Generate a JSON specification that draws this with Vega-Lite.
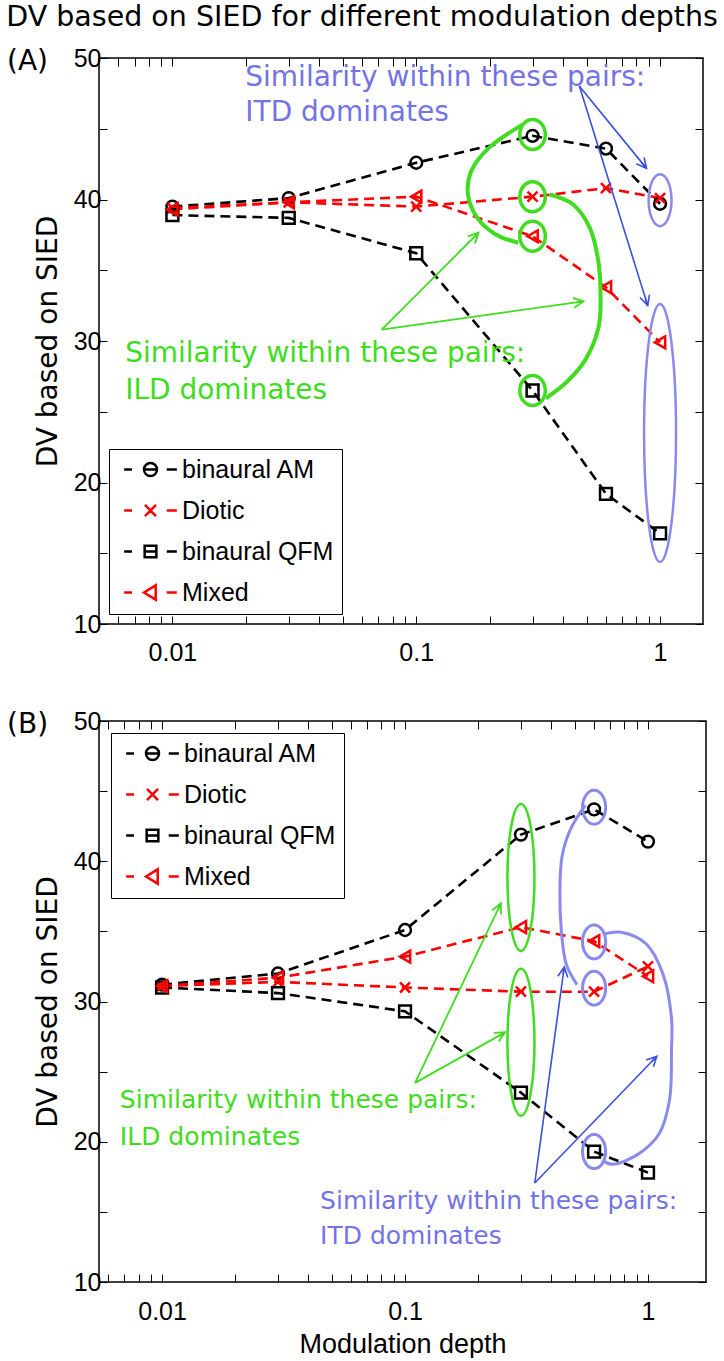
{
  "$schema": "https://vega.github.io/schema/vega-lite/v6.json",
  "background": "white",
  "padding": {"left": 6, "top": 2, "right": 3, "bottom": 0},
  "title": {"text": "DV based on SIED for different modulation depths", "font": "DejaVu Sans", "fontSize": 28.5, "fontWeight": "normal", "anchor": "start", "frame": "bounds", "offset": 14, "color": "black"},
  "spacing": 42,
  "config": {
    "view": {"stroke": "black", "strokeWidth": 1.5},
    "axis": {"domain": false, "grid": false, "tickColor": "black", "tickSize": -8, "tickWidth": 1, "labelFont": "Liberation Sans", "labelFontSize": 25, "labelColor": "black", "labelPadding": 6, "labelOverlap": false, "labelFlush": false, "titleFont": "DejaVu Sans", "titleFontSize": 28, "titleFontWeight": "normal", "titleColor": "black"}
  },
  "datasets": {
    "seriesA": [
      {"x": 0.01, "y": 39.5, "series": "binaural AM"}, {"x": 0.03, "y": 40.1, "series": "binaural AM"}, {"x": 0.1, "y": 42.6, "series": "binaural AM"}, {"x": 0.3, "y": 44.5, "series": "binaural AM"}, {"x": 0.6, "y": 43.6, "series": "binaural AM"}, {"x": 1, "y": 39.7, "series": "binaural AM"},
      {"x": 0.01, "y": 39.4, "series": "Diotic"}, {"x": 0.03, "y": 39.8, "series": "Diotic"}, {"x": 0.1, "y": 39.5, "series": "Diotic"}, {"x": 0.3, "y": 40.2, "series": "Diotic"}, {"x": 0.6, "y": 40.8, "series": "Diotic"}, {"x": 1, "y": 40.1, "series": "Diotic"},
      {"x": 0.01, "y": 38.9, "series": "binaural QFM"}, {"x": 0.03, "y": 38.7, "series": "binaural QFM"}, {"x": 0.1, "y": 36.2, "series": "binaural QFM"}, {"x": 0.3, "y": 26.5, "series": "binaural QFM"}, {"x": 0.6, "y": 19.2, "series": "binaural QFM"}, {"x": 1, "y": 16.4, "series": "binaural QFM"},
      {"x": 0.01, "y": 39.3, "series": "Mixed"}, {"x": 0.03, "y": 39.8, "series": "Mixed"}, {"x": 0.1, "y": 40.2, "series": "Mixed"}, {"x": 0.3, "y": 37.4, "series": "Mixed"}, {"x": 0.6, "y": 33.8, "series": "Mixed"}, {"x": 1, "y": 29.9, "series": "Mixed"}
    ],
    "seriesB": [
      {"x": 0.01, "y": 31.2, "series": "binaural AM"}, {"x": 0.03, "y": 32.0, "series": "binaural AM"}, {"x": 0.1, "y": 35.1, "series": "binaural AM"}, {"x": 0.3, "y": 41.9, "series": "binaural AM"}, {"x": 0.6, "y": 43.7, "series": "binaural AM"}, {"x": 1, "y": 41.4, "series": "binaural AM"},
      {"x": 0.01, "y": 31.1, "series": "Diotic"}, {"x": 0.03, "y": 31.4, "series": "Diotic"}, {"x": 0.1, "y": 31.0, "series": "Diotic"}, {"x": 0.3, "y": 30.7, "series": "Diotic"}, {"x": 0.6, "y": 30.7, "series": "Diotic"}, {"x": 1, "y": 32.5, "series": "Diotic"},
      {"x": 0.01, "y": 31.0, "series": "binaural QFM"}, {"x": 0.03, "y": 30.6, "series": "binaural QFM"}, {"x": 0.1, "y": 29.3, "series": "binaural QFM"}, {"x": 0.3, "y": 23.5, "series": "binaural QFM"}, {"x": 0.6, "y": 19.3, "series": "binaural QFM"}, {"x": 1, "y": 17.8, "series": "binaural QFM"},
      {"x": 0.01, "y": 31.1, "series": "Mixed"}, {"x": 0.03, "y": 31.7, "series": "Mixed"}, {"x": 0.1, "y": 33.2, "series": "Mixed"}, {"x": 0.3, "y": 35.3, "series": "Mixed"}, {"x": 0.6, "y": 34.3, "series": "Mixed"}, {"x": 1, "y": 31.8, "series": "Mixed"}
    ],
    "annA": [
      {"kind": "greenCircle", "x": 0.3, "y": 44.6}, {"kind": "greenCircle", "x": 0.3, "y": 40.2}, {"kind": "greenCircle", "x": 0.3, "y": 37.4}, {"kind": "greenCircle", "x": 0.3, "y": 26.5},
      {"kind": "blueSmall", "x": 1, "y": 39.95},
      {"kind": "blueBig", "x": 1, "y": 23.5},
      {"kind": "greenCurve", "id": "g1", "i": 1, "x": 0.273, "y": 45.29}, {"kind": "greenCurve", "id": "g1", "i": 2, "x": 0.2, "y": 43.7}, {"kind": "greenCurve", "id": "g1", "i": 3, "x": 0.168, "y": 42.0}, {"kind": "greenCurve", "id": "g1", "i": 4, "x": 0.163, "y": 40.35}, {"kind": "greenCurve", "id": "g1", "i": 5, "x": 0.178, "y": 38.7}, {"kind": "greenCurve", "id": "g1", "i": 6, "x": 0.212, "y": 37.53}, {"kind": "greenCurve", "id": "g1", "i": 7, "x": 0.262, "y": 36.94},
      {"kind": "greenCurve", "id": "g2", "i": 1, "x": 0.353, "y": 40.35}, {"kind": "greenCurve", "id": "g2", "i": 2, "x": 0.44, "y": 39.65}, {"kind": "greenCurve", "id": "g2", "i": 3, "x": 0.515, "y": 38.0}, {"kind": "greenCurve", "id": "g2", "i": 4, "x": 0.558, "y": 35.65}, {"kind": "greenCurve", "id": "g2", "i": 5, "x": 0.57, "y": 33.3}, {"kind": "greenCurve", "id": "g2", "i": 6, "x": 0.56, "y": 31.0}, {"kind": "greenCurve", "id": "g2", "i": 7, "x": 0.495, "y": 28.7}, {"kind": "greenCurve", "id": "g2", "i": 8, "x": 0.414, "y": 27.1}, {"kind": "greenCurve", "id": "g2", "i": 9, "x": 0.34, "y": 25.95},
      {"kind": "blueArrow", "id": "b1", "x": 0.467, "y": 48.0, "x2": 0.88, "y2": 42.2}, {"kind": "blueArrow", "id": "b2", "x": 0.467, "y": 48.0, "x2": 0.89, "y2": 32.5},
      {"kind": "greenArrow", "id": "g1", "x": 0.0722, "y": 30.8, "x2": 0.18, "y2": 37.65}, {"kind": "greenArrow", "id": "g2", "x": 0.0722, "y": 30.8, "x2": 0.485, "y2": 32.8},
      {"kind": "blueText", "x": 0.0199, "y": 48.6, "text": "Similarity within these pairs:"}, {"kind": "blueText", "x": 0.0199, "y": 46.1, "text": "ITD dominates"},
      {"kind": "greenText", "x": 0.0064, "y": 29.1, "text": "Similarity within these pairs:"}, {"kind": "greenText", "x": 0.0064, "y": 26.5, "text": "ILD dominates"}
    ],
    "annB": [
      {"kind": "greenEll", "x": 0.3, "y": 38.85}, {"kind": "greenEll", "x": 0.3, "y": 27.1},
      {"kind": "blueSmall", "x": 0.6, "y": 43.85}, {"kind": "blueSmall", "x": 0.6, "y": 34.25}, {"kind": "blueSmall", "x": 0.6, "y": 30.95}, {"kind": "blueSmall", "x": 0.6, "y": 19.3},
      {"kind": "blueCurve", "id": "c1", "i": 1, "x": 0.552, "y": 43.98}, {"kind": "blueCurve", "id": "c1", "i": 2, "x": 0.48, "y": 42.29}, {"kind": "blueCurve", "id": "c1", "i": 3, "x": 0.443, "y": 40.36}, {"kind": "blueCurve", "id": "c1", "i": 4, "x": 0.434, "y": 37.95}, {"kind": "blueCurve", "id": "c1", "i": 5, "x": 0.44, "y": 35.06}, {"kind": "blueCurve", "id": "c1", "i": 6, "x": 0.461, "y": 32.65}, {"kind": "blueCurve", "id": "c1", "i": 7, "x": 0.51, "y": 31.2},
      {"kind": "blueCurve", "id": "c2", "i": 1, "x": 0.66, "y": 34.82}, {"kind": "blueCurve", "id": "c2", "i": 2, "x": 0.775, "y": 34.94}, {"kind": "blueCurve", "id": "c2", "i": 3, "x": 0.984, "y": 34.1}, {"kind": "blueCurve", "id": "c2", "i": 4, "x": 1.154, "y": 31.93}, {"kind": "blueCurve", "id": "c2", "i": 5, "x": 1.25, "y": 28.8}, {"kind": "blueCurve", "id": "c2", "i": 6, "x": 1.25, "y": 26.6}, {"kind": "blueCurve", "id": "c2", "i": 7, "x": 1.226, "y": 22.96}, {"kind": "blueCurve", "id": "c2", "i": 8, "x": 1.11, "y": 20.55}, {"kind": "blueCurve", "id": "c2", "i": 9, "x": 0.908, "y": 19.1}, {"kind": "blueCurve", "id": "c2", "i": 10, "x": 0.715, "y": 18.39}, {"kind": "blueCurve", "id": "c2", "i": 11, "x": 0.66, "y": 18.6},
      {"kind": "greenArrow", "id": "g1", "x": 0.11, "y": 24.2, "x2": 0.248, "y2": 37.0}, {"kind": "greenArrow", "id": "g2", "x": 0.11, "y": 24.2, "x2": 0.258, "y2": 27.8},
      {"kind": "blueArrow", "id": "b1", "x": 0.342, "y": 17.06, "x2": 0.452, "y2": 32.46}, {"kind": "blueArrow", "id": "b2", "x": 0.342, "y": 17.06, "x2": 1.087, "y2": 26.1},
      {"kind": "greenText", "x": 0.0067, "y": 22.96, "text": "Similarity within these pairs:"}, {"kind": "greenText", "x": 0.0067, "y": 20.36, "text": "ILD dominates"},
      {"kind": "blueText", "x": 0.0447, "y": 15.8, "text": "Similarity within these pairs:"}, {"kind": "blueText", "x": 0.0447, "y": 13.3, "text": "ITD dominates"}
    ]
  },
  "vconcat": [
    {
      "width": 604,
      "height": 566,
      "title": {"text": "(A)", "anchor": "start", "frame": "group", "align": "left", "baseline": "middle", "dx": -92, "dy": 44, "offset": 0, "font": "DejaVu Sans", "fontSize": 28, "fontWeight": "normal", "color": "black"},
      "resolve": {"scale": {"color": "independent", "shape": "independent"}, "axis": {"x": "independent", "y": "independent"}},
      "layer": [
        {
          "data": {"name": "seriesA"},
          "mark": {"type": "line", "strokeDash": [10, 6], "strokeWidth": 2.6},
          "encoding": {
            "x": {"field": "x", "type": "quantitative", "scale": {"type": "log", "domain": [0.005, 1.5], "nice": false}, "axis": {"orient": "bottom", "title": null, "values": [0.006, 0.007, 0.008, 0.009, 0.01, 0.02, 0.03, 0.04, 0.05, 0.06, 0.07, 0.08, 0.09, 0.1, 0.2, 0.3, 0.4, 0.5, 0.6, 0.7, 0.8, 0.9, 1], "labelExpr": "datum.value == 1 ? '1' : (datum.value == 0.1 ? '0.1' : (datum.value == 0.01 ? '0.01' : ''))", "labelPadding": 24}},
            "y": {"field": "y", "type": "quantitative", "scale": {"domain": [10, 50], "nice": false, "zero": false}, "axis": {"orient": "left", "title": "DV based on SIED", "titlePadding": 11, "values": [10, 15, 20, 25, 30, 35, 40, 45, 50], "labelExpr": "datum.value % 10 === 0 ? datum.label : ''"}},
            "color": {"field": "series", "type": "nominal", "scale": {"domain": ["binaural AM", "Diotic", "binaural QFM", "Mixed"], "range": ["#000000", "#ff0000", "#000000", "#ff0000"]}, "legend": null}
          }
        },
        {
          "data": {"name": "seriesA"},
          "mark": {"type": "point", "filled": false, "strokeWidth": 2.5, "size": 140, "opacity": 1},
          "encoding": {
            "x": {"field": "x", "type": "quantitative", "axis": null},
            "y": {"field": "y", "type": "quantitative", "axis": null},
            "color": {"field": "series", "type": "nominal", "scale": {"domain": ["binaural AM", "Diotic", "binaural QFM", "Mixed"], "range": ["#000000", "#ff0000", "#000000", "#ff0000"]}, "legend": null},
            "shape": {"field": "series", "type": "nominal", "scale": {"domain": ["binaural AM", "Diotic", "binaural QFM", "Mixed"], "range": ["circle", "M-0.85,-0.85L0.85,0.85M-0.85,0.85L0.85,-0.85", "square", "triangle-left"]}, "legend": null}
          }
        },
        {
          "data": {"name": "seriesA"},
          "transform": [{"filter": "false"}],
          "mark": {"type": "point", "filled": false, "strokeWidth": 2.5, "opacity": 1},
          "encoding": {
            "x": {"field": "x", "type": "quantitative", "axis": {"orient": "top", "labels": false, "title": null, "values": [0.006, 0.007, 0.008, 0.009, 0.01, 0.02, 0.03, 0.04, 0.05, 0.06, 0.07, 0.08, 0.09, 0.1, 0.2, 0.3, 0.4, 0.5, 0.6, 0.7, 0.8, 0.9, 1]}},
            "y": {"field": "y", "type": "quantitative", "axis": {"orient": "right", "labels": false, "title": null, "values": [10, 15, 20, 25, 30, 35, 40, 45, 50]}},
            "color": {"field": "series", "type": "nominal", "scale": {"domain": ["binaural AM", "Diotic", "binaural QFM", "Mixed"], "range": ["#000000", "#ff0000", "#000000", "#ff0000"]}, "legend": {"title": null, "orient": "bottom-left", "offset": 10, "strokeColor": "black", "fillColor": "white", "padding": 8, "labelFont": "Liberation Sans", "labelFontSize": 25, "labelColor": "black", "symbolSize": 169, "symbolStrokeWidth": 2.5, "symbolOffset": 21, "labelOffset": 19, "rowPadding": 15}},
            "shape": {"field": "series", "type": "nominal", "scale": {"domain": ["binaural AM", "Diotic", "binaural QFM", "Mixed"], "range": ["M-4.05,0H-2.85M2.5,0H4.05M-1,0H1M1,0C1,0.552,0.552,1,0,1C-0.552,1,-1,0.552,-1,0C-1,-0.552,-0.552,-1,0,-1C0.552,-1,1,-0.552,1,0Z", "M-4.05,0H-2.85M2.5,0H4.05M-0.85,-0.85L0.85,0.85M-0.85,0.85L0.85,-0.85", "M-4.05,0H-2.85M2.5,0H4.05M-0.9,0H0.9M-0.9,-0.9H0.9V0.9H-0.9Z", "M-4.05,0H-2.85M2.5,0H4.05M-1,0L0.8,-1.1V1.1Z"]}, "legend": {"title": null, "orient": "bottom-left", "offset": 10, "strokeColor": "black", "fillColor": "white", "padding": 8, "labelFont": "Liberation Sans", "labelFontSize": 25, "labelColor": "black", "symbolSize": 169, "symbolStrokeWidth": 2.5, "symbolOffset": 21, "labelOffset": 19, "rowPadding": 15}}
          }
        },
        {
          "data": {"name": "annA"},
          "transform": [{"filter": "datum.kind === 'greenCircle'"}],
          "mark": {"type": "point", "filled": false, "stroke": "#40dc20", "strokeWidth": 3.5, "opacity": 1, "size": 900, "shape": "M0,-1C0.469,-1,0.85,-0.552,0.85,0C0.85,0.552,0.469,1,0,1C-0.469,1,-0.85,0.552,-0.85,0C-0.85,-0.552,-0.469,-1,0,-1Z"},
          "encoding": {"x": {"field": "x", "type": "quantitative", "axis": null}, "y": {"field": "y", "type": "quantitative", "axis": null}}
        },
        {
          "data": {"name": "annA"},
          "transform": [{"filter": "datum.kind === 'blueSmall'"}],
          "mark": {"type": "point", "filled": false, "stroke": "#8a8aee", "strokeWidth": 2.5, "opacity": 1, "size": 2704, "shape": "M0,-1C0.243,-1,0.44,-0.552,0.44,0C0.44,0.552,0.243,1,0,1C-0.243,1,-0.44,0.552,-0.44,0C-0.44,-0.552,-0.243,-1,0,-1Z"},
          "encoding": {"x": {"field": "x", "type": "quantitative", "axis": null}, "y": {"field": "y", "type": "quantitative", "axis": null}}
        },
        {
          "data": {"name": "annA"},
          "transform": [{"filter": "datum.kind === 'blueBig'"}],
          "mark": {"type": "point", "filled": false, "stroke": "#8a8aee", "strokeWidth": 2.5, "opacity": 1, "size": 66564, "shape": "M0,-1C0.068,-1,0.124,-0.552,0.124,0C0.124,0.552,0.068,1,0,1C-0.068,1,-0.124,0.552,-0.124,0C-0.124,-0.552,-0.068,-1,0,-1Z"},
          "encoding": {"x": {"field": "x", "type": "quantitative", "axis": null}, "y": {"field": "y", "type": "quantitative", "axis": null}}
        },
        {
          "data": {"name": "annA"},
          "transform": [{"filter": "datum.kind === 'greenCurve'"}],
          "mark": {"type": "line", "stroke": "#40dc20", "strokeWidth": 4, "interpolate": "catmull-rom"},
          "encoding": {"x": {"field": "x", "type": "quantitative", "axis": null}, "y": {"field": "y", "type": "quantitative", "axis": null}, "detail": {"field": "id"}, "order": {"field": "i", "type": "quantitative"}}
        },
        {
          "data": {"name": "annA"},
          "transform": [{"filter": "datum.kind === 'blueArrow'"}],
          "mark": {"type": "rule", "stroke": "#3a4fdc", "strokeWidth": 1.6},
          "encoding": {"x": {"field": "x", "type": "quantitative", "axis": null}, "y": {"field": "y", "type": "quantitative", "axis": null}, "x2": {"field": "x2"}, "y2": {"field": "y2"}}
        },
        {
          "data": {"name": "annA"},
          "transform": [{"filter": "datum.kind === 'greenArrow'"}],
          "mark": {"type": "rule", "stroke": "#40dc20", "strokeWidth": 1.8},
          "encoding": {"x": {"field": "x", "type": "quantitative", "axis": null}, "y": {"field": "y", "type": "quantitative", "axis": null}, "x2": {"field": "x2"}, "y2": {"field": "y2"}}
        },
        {
          "data": {"name": "annA"},
          "transform": [{"filter": "datum.kind === 'blueArrow'"}],
          "mark": {"type": "point", "filled": false, "stroke": "#3a4fdc", "strokeWidth": 1.6, "opacity": 1, "size": 400, "shape": "M-1,-0.5L0,0L-1,0.5M-0.75,0L0,0"},
          "encoding": {"x": {"field": "x2", "type": "quantitative", "axis": null}, "y": {"field": "y2", "type": "quantitative", "axis": null}, "angle": {"condition": [{"test": "datum.id === 'b1'", "value": 50.7}], "value": 72.7}}
        },
        {
          "data": {"name": "annA"},
          "transform": [{"filter": "datum.kind === 'greenArrow'"}],
          "mark": {"type": "point", "filled": false, "stroke": "#40dc20", "strokeWidth": 1.8, "opacity": 1, "size": 400, "shape": "M-1,-0.5L0,0L-1,0.5M-0.75,0L0,0"},
          "encoding": {"x": {"field": "x2", "type": "quantitative", "axis": null}, "y": {"field": "y2", "type": "quantitative", "axis": null}, "angle": {"condition": [{"test": "datum.id === 'g1'", "value": -45}], "value": -8}}
        },
        {
          "data": {"name": "annA"},
          "transform": [{"filter": "datum.kind === 'blueText'"}],
          "mark": {"type": "text", "align": "left", "baseline": "middle", "font": "DejaVu Sans", "fontSize": 28, "color": "#7373e6"},
          "encoding": {"x": {"field": "x", "type": "quantitative", "axis": null}, "y": {"field": "y", "type": "quantitative", "axis": null}, "text": {"field": "text"}}
        },
        {
          "data": {"name": "annA"},
          "transform": [{"filter": "datum.kind === 'greenText'"}],
          "mark": {"type": "text", "align": "left", "baseline": "middle", "font": "DejaVu Sans", "fontSize": 28, "color": "#40dc20"},
          "encoding": {"x": {"field": "x", "type": "quantitative", "axis": null}, "y": {"field": "y", "type": "quantitative", "axis": null}, "text": {"field": "text"}}
        }
      ]
    },
    {
      "width": 607,
      "height": 561,
      "title": {"text": "(B)", "anchor": "start", "frame": "group", "align": "left", "baseline": "middle", "dx": -92, "dy": 44, "offset": 0, "font": "DejaVu Sans", "fontSize": 28, "fontWeight": "normal", "color": "black"},
      "resolve": {"scale": {"color": "independent", "shape": "independent"}, "axis": {"x": "independent", "y": "independent"}},
      "layer": [
        {
          "data": {"name": "seriesB"},
          "mark": {"type": "line", "strokeDash": [10, 6], "strokeWidth": 2.6},
          "encoding": {
            "x": {"field": "x", "type": "quantitative", "scale": {"type": "log", "domain": [0.0055, 1.733], "nice": false}, "axis": {"orient": "bottom", "title": "Modulation depth", "titleFont": "Liberation Sans", "titleFontSize": 27, "titlePadding": 7, "values": [0.006, 0.007, 0.008, 0.009, 0.01, 0.02, 0.03, 0.04, 0.05, 0.06, 0.07, 0.08, 0.09, 0.1, 0.2, 0.3, 0.4, 0.5, 0.6, 0.7, 0.8, 0.9, 1], "labelExpr": "datum.value == 1 ? '1' : (datum.value == 0.1 ? '0.1' : (datum.value == 0.01 ? '0.01' : ''))", "labelPadding": 25}},
            "y": {"field": "y", "type": "quantitative", "scale": {"domain": [10, 50], "nice": false, "zero": false}, "axis": {"orient": "left", "title": "DV based on SIED", "titlePadding": 11, "values": [10, 15, 20, 25, 30, 35, 40, 45, 50], "labelExpr": "datum.value % 10 === 0 ? datum.label : ''"}},
            "color": {"field": "series", "type": "nominal", "scale": {"domain": ["binaural AM", "Diotic", "binaural QFM", "Mixed"], "range": ["#000000", "#ff0000", "#000000", "#ff0000"]}, "legend": null}
          }
        },
        {
          "data": {"name": "seriesB"},
          "mark": {"type": "point", "filled": false, "strokeWidth": 2.5, "size": 140, "opacity": 1},
          "encoding": {
            "x": {"field": "x", "type": "quantitative", "axis": null},
            "y": {"field": "y", "type": "quantitative", "axis": null},
            "color": {"field": "series", "type": "nominal", "scale": {"domain": ["binaural AM", "Diotic", "binaural QFM", "Mixed"], "range": ["#000000", "#ff0000", "#000000", "#ff0000"]}, "legend": null},
            "shape": {"field": "series", "type": "nominal", "scale": {"domain": ["binaural AM", "Diotic", "binaural QFM", "Mixed"], "range": ["circle", "M-0.85,-0.85L0.85,0.85M-0.85,0.85L0.85,-0.85", "square", "triangle-left"]}, "legend": null}
          }
        },
        {
          "data": {"name": "seriesB"},
          "transform": [{"filter": "false"}],
          "mark": {"type": "point", "filled": false, "strokeWidth": 2.5, "opacity": 1},
          "encoding": {
            "x": {"field": "x", "type": "quantitative", "axis": {"orient": "top", "labels": false, "title": null, "values": [0.006, 0.007, 0.008, 0.009, 0.01, 0.02, 0.03, 0.04, 0.05, 0.06, 0.07, 0.08, 0.09, 0.1, 0.2, 0.3, 0.4, 0.5, 0.6, 0.7, 0.8, 0.9, 1]}},
            "y": {"field": "y", "type": "quantitative", "axis": {"orient": "right", "labels": false, "title": null, "values": [10, 15, 20, 25, 30, 35, 40, 45, 50]}},
            "color": {"field": "series", "type": "nominal", "scale": {"domain": ["binaural AM", "Diotic", "binaural QFM", "Mixed"], "range": ["#000000", "#ff0000", "#000000", "#ff0000"]}, "legend": {"title": null, "orient": "top-left", "offset": 12, "strokeColor": "black", "fillColor": "white", "padding": 8, "labelFont": "Liberation Sans", "labelFontSize": 25, "labelColor": "black", "symbolSize": 169, "symbolStrokeWidth": 2.5, "symbolOffset": 21, "labelOffset": 19, "rowPadding": 15}},
            "shape": {"field": "series", "type": "nominal", "scale": {"domain": ["binaural AM", "Diotic", "binaural QFM", "Mixed"], "range": ["M-4.05,0H-2.85M2.5,0H4.05M-1,0H1M1,0C1,0.552,0.552,1,0,1C-0.552,1,-1,0.552,-1,0C-1,-0.552,-0.552,-1,0,-1C0.552,-1,1,-0.552,1,0Z", "M-4.05,0H-2.85M2.5,0H4.05M-0.85,-0.85L0.85,0.85M-0.85,0.85L0.85,-0.85", "M-4.05,0H-2.85M2.5,0H4.05M-0.9,0H0.9M-0.9,-0.9H0.9V0.9H-0.9Z", "M-4.05,0H-2.85M2.5,0H4.05M-1,0L0.8,-1.1V1.1Z"]}, "legend": {"title": null, "orient": "top-left", "offset": 12, "strokeColor": "black", "fillColor": "white", "padding": 8, "labelFont": "Liberation Sans", "labelFontSize": 25, "labelColor": "black", "symbolSize": 169, "symbolStrokeWidth": 2.5, "symbolOffset": 21, "labelOffset": 19, "rowPadding": 15}}
          }
        },
        {
          "data": {"name": "annB"},
          "transform": [{"filter": "datum.kind === 'greenEll'"}],
          "mark": {"type": "point", "filled": false, "stroke": "#40dc20", "strokeWidth": 2.5, "opacity": 1, "size": 21609, "shape": "M0,-1C0.102,-1,0.184,-0.552,0.184,0C0.184,0.552,0.102,1,0,1C-0.102,1,-0.184,0.552,-0.184,0C-0.184,-0.552,-0.102,-1,0,-1Z"},
          "encoding": {"x": {"field": "x", "type": "quantitative", "axis": null}, "y": {"field": "y", "type": "quantitative", "axis": null}}
        },
        {
          "data": {"name": "annB"},
          "transform": [{"filter": "datum.kind === 'blueSmall'"}],
          "mark": {"type": "point", "filled": false, "stroke": "#8a8aee", "strokeWidth": 3, "opacity": 1, "size": 1156, "shape": "M0,-1C0.375,-1,0.68,-0.552,0.68,0C0.68,0.552,0.375,1,0,1C-0.375,1,-0.68,0.552,-0.68,0C-0.68,-0.552,-0.375,-1,0,-1Z"},
          "encoding": {"x": {"field": "x", "type": "quantitative", "axis": null}, "y": {"field": "y", "type": "quantitative", "axis": null}}
        },
        {
          "data": {"name": "annB"},
          "transform": [{"filter": "datum.kind === 'blueCurve'"}],
          "mark": {"type": "line", "stroke": "#8a8aee", "strokeWidth": 3, "interpolate": "catmull-rom"},
          "encoding": {"x": {"field": "x", "type": "quantitative", "axis": null}, "y": {"field": "y", "type": "quantitative", "axis": null}, "detail": {"field": "id"}, "order": {"field": "i", "type": "quantitative"}}
        },
        {
          "data": {"name": "annB"},
          "transform": [{"filter": "datum.kind === 'blueArrow'"}],
          "mark": {"type": "rule", "stroke": "#3a4fdc", "strokeWidth": 1.6},
          "encoding": {"x": {"field": "x", "type": "quantitative", "axis": null}, "y": {"field": "y", "type": "quantitative", "axis": null}, "x2": {"field": "x2"}, "y2": {"field": "y2"}}
        },
        {
          "data": {"name": "annB"},
          "transform": [{"filter": "datum.kind === 'greenArrow'"}],
          "mark": {"type": "rule", "stroke": "#40dc20", "strokeWidth": 1.8},
          "encoding": {"x": {"field": "x", "type": "quantitative", "axis": null}, "y": {"field": "y", "type": "quantitative", "axis": null}, "x2": {"field": "x2"}, "y2": {"field": "y2"}}
        },
        {
          "data": {"name": "annB"},
          "transform": [{"filter": "datum.kind === 'blueArrow'"}],
          "mark": {"type": "point", "filled": false, "stroke": "#3a4fdc", "strokeWidth": 1.6, "opacity": 1, "size": 400, "shape": "M-1,-0.5L0,0L-1,0.5M-0.75,0L0,0"},
          "encoding": {"x": {"field": "x2", "type": "quantitative", "axis": null}, "y": {"field": "y2", "type": "quantitative", "axis": null}, "angle": {"condition": [{"test": "datum.id === 'b1'", "value": -82.2}], "value": -46}}
        },
        {
          "data": {"name": "annB"},
          "transform": [{"filter": "datum.kind === 'greenArrow'"}],
          "mark": {"type": "point", "filled": false, "stroke": "#40dc20", "strokeWidth": 1.8, "opacity": 1, "size": 400, "shape": "M-1,-0.5L0,0L-1,0.5M-0.75,0L0,0"},
          "encoding": {"x": {"field": "x2", "type": "quantitative", "axis": null}, "y": {"field": "y2", "type": "quantitative", "axis": null}, "angle": {"condition": [{"test": "datum.id === 'g1'", "value": -64.3}], "value": -29.2}}
        },
        {
          "data": {"name": "annB"},
          "transform": [{"filter": "datum.kind === 'blueText'"}],
          "mark": {"type": "text", "align": "left", "baseline": "middle", "font": "DejaVu Sans", "fontSize": 25, "color": "#7373e6"},
          "encoding": {"x": {"field": "x", "type": "quantitative", "axis": null}, "y": {"field": "y", "type": "quantitative", "axis": null}, "text": {"field": "text"}}
        },
        {
          "data": {"name": "annB"},
          "transform": [{"filter": "datum.kind === 'greenText'"}],
          "mark": {"type": "text", "align": "left", "baseline": "middle", "font": "DejaVu Sans", "fontSize": 25, "color": "#40dc20"},
          "encoding": {"x": {"field": "x", "type": "quantitative", "axis": null}, "y": {"field": "y", "type": "quantitative", "axis": null}, "text": {"field": "text"}}
        }
      ]
    }
  ]
}
